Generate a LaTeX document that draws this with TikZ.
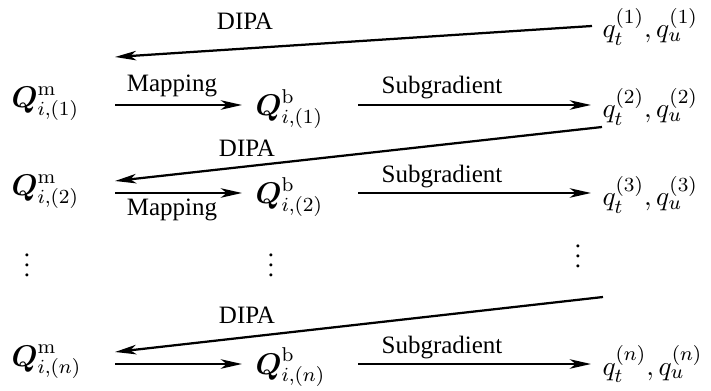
\documentclass[tikz,border=0pt]{standalone}
\usepackage{amsmath}
\usepackage[no-math]{fontspec}
\setmainfont{Liberation Serif}
\usetikzlibrary{arrows.meta}
\begin{document}
\begin{tikzpicture}[x=0.4pt,y=-0.4pt,
  arr/.style={-{Stealth[length=8.5pt,width=3.8pt,inset=2.4pt]}, line width=0.9pt},
  lab/.style={anchor=base, inner sep=0pt},
  mt/.style={anchor=base west, inner sep=0pt, font=\fontsize{12}{14}\selectfont},
  qt/.style={anchor=base west, inner sep=0pt, font=\fontsize{11.4}{14}\selectfont}]
\useasboundingbox (0,0) rectangle (711,391);
% math nodes
\node[qt] (q1) at (602,38) {$q_t^{(1)}, q_u^{(1)}$};
\node[mt] (Qm1) at (11,108) {$\boldsymbol{Q}^{\mathrm{m}}_{i,(1)}$};
\node[mt] (Qb1) at (255,116) {$\boldsymbol{Q}^{\mathrm{b}}_{i,(1)}$};
\node[qt] (q2) at (602,118) {$q_t^{(2)}, q_u^{(2)}$};
\node[mt] (Qm2) at (11,196) {$\boldsymbol{Q}^{\mathrm{m}}_{i,(2)}$};
\node[mt] (Qb2) at (255,204) {$\boldsymbol{Q}^{\mathrm{b}}_{i,(2)}$};
\node[qt] (q3) at (602,206) {$q_t^{(3)}, q_u^{(3)}$};
\node[mt] (Qmn) at (11,366) {$\boldsymbol{Q}^{\mathrm{m}}_{i,(n)}$};
\node[mt] (Qbn) at (255,374) {$\boldsymbol{Q}^{\mathrm{b}}_{i,(n)}$};
\node[qt] (qn) at (602,375) {$q_t^{(n)}, q_u^{(n)}$};
% dots
\node[inner sep=0pt] (d1) at (27,258) {$\vdots$};
\node[inner sep=0pt] (d2) at (271,258) {$\vdots$};
\node[inner sep=0pt] (d3) at (578,249) {$\vdots$};
% arrow end points
\coordinate (a1s) at (592,26);  \coordinate (a1e) at (115,57);
\coordinate (m1s) at (115,105); \coordinate (m1e) at (242,105);
\coordinate (s1s) at (358,105); \coordinate (s1e) at (591,105);
\coordinate (a2s) at (602,127); \coordinate (a2e) at (115,181);
\coordinate (m2s) at (115,193); \coordinate (m2e) at (242,193);
\coordinate (s2s) at (358,193); \coordinate (s2e) at (591,193);
\coordinate (a3s) at (603,297); \coordinate (a3e) at (115,352);
\coordinate (mns) at (115,364); \coordinate (mne) at (242,364);
\coordinate (sns) at (358,364); \coordinate (sne) at (591,364);
% arrows
\draw[arr] (a1s) -- (a1e);
\draw[arr] (m1s) -- (m1e);
\draw[arr] (s1s) -- (s1e);
\draw[arr] (a2s) -- (a2e);
\draw[arr] (m2s) -- (m2e);
\draw[arr] (s2s) -- (s2e);
\draw[arr] (a3s) -- (a3e);
\draw[arr] (mns) -- (mne);
\draw[arr] (sns) -- (sne);
% labels
\node[lab] (l1) at (245,30) {DIPA};
\node[lab] (l2) at (172,92) {Mapping};
\node[lab] (l3) at (442,94) {Subgradient};
\node[lab] (l4) at (247,157) {DIPA};
\node[lab] (l5) at (442,183) {Subgradient};
\node[lab] (l6) at (172,216) {Mapping};
\node[lab] (l7) at (247,323) {DIPA};
\node[lab] (l8) at (442,353) {Subgradient};
\end{tikzpicture}
\end{document}
